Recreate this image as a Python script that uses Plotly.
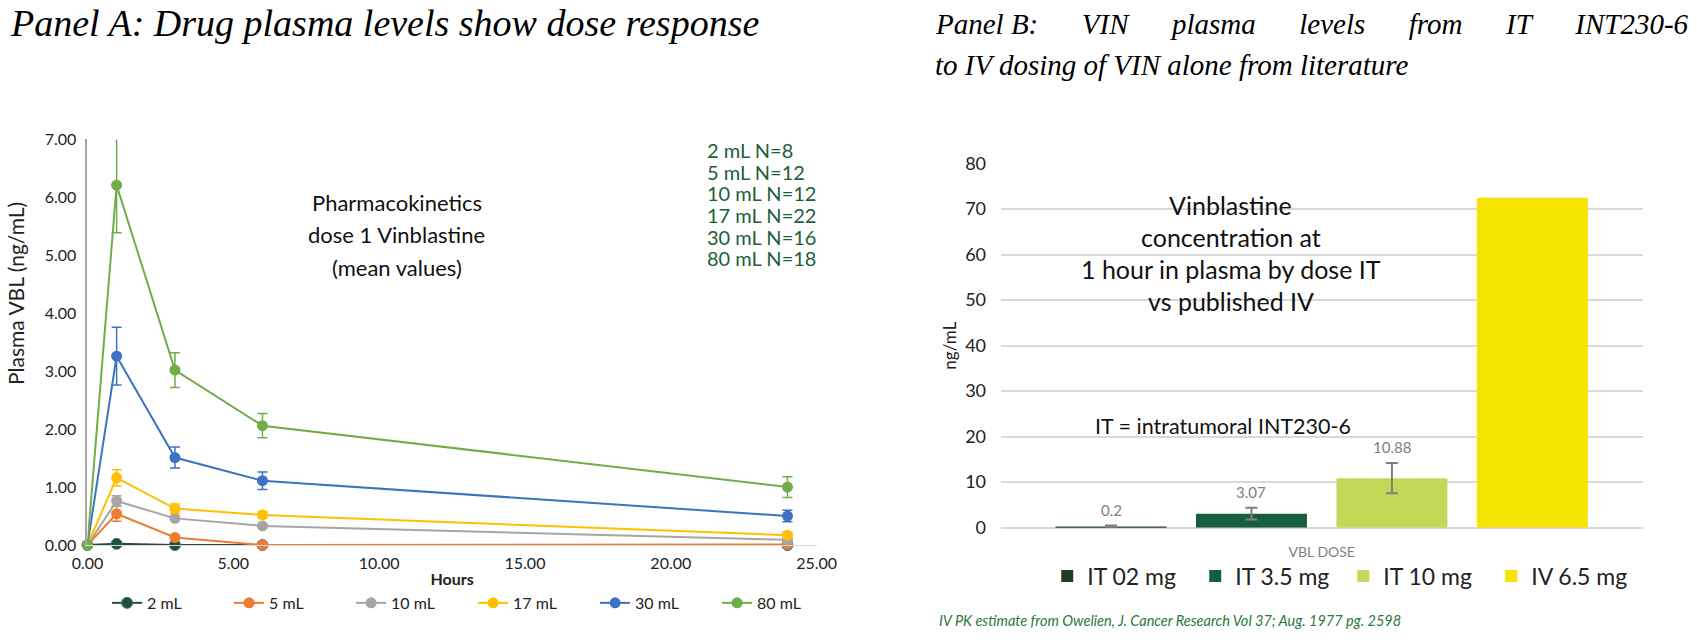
import plotly.graph_objects as go

# ---------------- Panel A data ----------------
hours = [0, 1, 3, 6, 24]
series_names = ["2 mL", "5 mL", "10 mL", "17 mL", "30 mL", "80 mL"]
v_2 = [0, 0.02, 0.00, 0.00, 0.00]
v_5 = [0, 0.54, 0.13, 0.00, 0.01]
v_10 = [0, 0.76, 0.46, 0.33, 0.09]
v_17 = [0, 1.16, 0.63, 0.52, 0.17]
v_30 = [0, 3.26, 1.51, 1.11, 0.50]
v_80 = [0, 6.21, 3.02, 2.06, 1.00]
e_2 = [0, 0.02, 0.01, 0.00, 0.00]
e_5 = [0, 0.13, 0.03, 0.01, 0.01]
e_10 = [0, 0.09, 0.03, 0.03, 0.02]
e_17 = [0, 0.14, 0.08, 0.06, 0.05]
e_30 = [0, 0.50, 0.18, 0.15, 0.10]
e_80 = [0, 0.82, 0.30, 0.21, 0.18]
n_labels = ["2 mL N=8", "5 mL N=12", "10 mL N=12", "17 mL N=22", "30 mL N=16", "80 mL N=18"]
pk_lines = ["Pharmacokinetics", "dose 1 Vinblastine", "(mean values)"]

# ---------------- Panel B data ----------------
category = ["VBL DOSE"]
doses = ["IT 02 mg", "IT 3.5 mg", "IT 10 mg", "IV 6.5 mg"]
conc = [0.2, 3.07, 10.88, 72.5]
conc_err = [0.25, 1.3, 3.3, 0]
bar_labels = ["0.2", "3.07", "10.88", ""]
vin_lines = ["Vinblastine", "concentration at", "1 hour in plasma by dose IT", "vs published IV"]

W, H = 1697, 640
FONT = "Lato"

colors_a = ["#24502E", "#ED7D31", "#A5A5A5", "#FFC000", "#3B73C2", "#70AD47"]
colors_b = ["#1E3F27", "#175E3E", "#C2D957", "#F5E400"]

fig = go.Figure()

vals = [v_2, v_5, v_10, v_17, v_30, v_80]
errs = [e_2, e_5, e_10, e_17, e_30, e_80]
for i, (name, v, e) in enumerate(zip(series_names, vals, errs)):
    col = colors_a[i]
    mline = dict(color="#3B6DB5", width=1) if i == 0 else dict(width=0)
    fig.add_trace(go.Scatter(
        x=hours, y=v, name=name, mode="lines+markers", cliponaxis=False,
        line=dict(color=col, width=2),
        marker=dict(color=col, size=11, line=mline),
        error_y=dict(type="data", array=e, visible=True, color=col, thickness=1.5, width=5),
        xaxis="x", yaxis="y", legend="legend",
    ))

for i, (d, c, e) in enumerate(zip(doses, conc, conc_err)):
    fig.add_trace(go.Bar(
        x=category, y=[c], name=d, marker=dict(color=colors_b[i], line=dict(width=0)),
        error_y=dict(type="data", array=[e], visible=e > 0, color="#7F7F7F", thickness=2, width=6),
        xaxis="x2", yaxis="y2", legend="legend2",
    ))

def px_x(p):
    return p / W

def px_y(p):
    return 1 - p / H

bargap = 0.125
bargroupgap = 0.21

fig.update_layout(
    width=W, height=H,
    margin=dict(l=0, r=0, t=0, b=0),
    paper_bgcolor="white", plot_bgcolor="white",
    font=dict(family=FONT, color="#222222"),
    barmode="group", bargap=bargap, bargroupgap=bargroupgap,
    xaxis=dict(domain=[px_x(73), px_x(818)], range=[0, 25], dtick=5, tickformat=".2f",
               showgrid=False, zeroline=False, showline=True, linecolor="#D9D9D9", linewidth=1,
               ticks="outside", ticklen=4, tickcolor="rgba(0,0,0,0)",
               tickfont=dict(size=16, color="#222222"),
               title=dict(text="<b>Hours</b>", font=dict(size=16, color="#222222"), standoff=2),
               anchor="y"),
    yaxis=dict(domain=[px_y(552), px_y(132)], range=[0, 7], dtick=1, tickformat=".2f",
               showgrid=False, zeroline=False, showline=True, linecolor="#A6A6A6", linewidth=2,
               ticks="outside", ticklen=6, tickcolor="rgba(0,0,0,0)",
               tickfont=dict(size=16, color="#222222"),
               anchor="x"),
    xaxis2=dict(domain=[px_x(1006), px_x(1662)], showgrid=False, zeroline=False,
                showline=False, ticks="outside", ticklen=12, tickcolor="rgba(0,0,0,0)",
                tickfont=dict(size=14, color="#808080"), anchor="y2"),
    yaxis2=dict(domain=[px_y(534), px_y(157)], range=[0, 80], dtick=10,
                showgrid=True, gridcolor="#D9D9D9", gridwidth=2, zeroline=True,
                zerolinecolor="#D9D9D9", zerolinewidth=2, showline=False,
                ticks="outside", ticklen=10, tickcolor="rgba(0,0,0,0)",
                tickfont=dict(size=18, color="#222222"),
                title=dict(text="ng/mL", font=dict(size=17, color="#222222"), standoff=4),
                anchor="x2"),
    legend=dict(orientation="h", x=px_x(467), xanchor="center", y=px_y(612), yanchor="middle",
                font=dict(size=16, color="#222222"), entrywidth=77, itemwidth=30,
                bgcolor="rgba(0,0,0,0)"),
    legend2=dict(orientation="h", x=px_x(1356), xanchor="center", y=px_y(584), yanchor="middle",
                 font=dict(size=23, color="#222222"), entrywidth=103, itemwidth=30,
                 bgcolor="rgba(0,0,0,0)"),
    showlegend=True,
)

SP = "\u00a0\u00a0\u00a0\u00a0\u00a0 "
ann = []
# Titles
ann.append(dict(text="<i>Panel A: Drug plasma levels show dose response</i>", x=px_x(-8), y=px_y(11),
                xref="paper", yref="paper", xanchor="left", yanchor="middle", showarrow=False,
                font=dict(family="Liberation Serif", size=38, color="#000000")))
ann.append(dict(text="<i>" + SP.join(["Panel B:", "VIN", "plasma", "levels", "from", "IT", "INT230-6"]) + "</i>",
                x=px_x(937), y=px_y(12), xref="paper", yref="paper", xanchor="left", yanchor="middle",
                showarrow=False, font=dict(family="Liberation Serif", size=29, color="#000000")))
ann.append(dict(text="<i>to IV dosing of VIN alone from literature</i>",
                x=px_x(937), y=px_y(55), xref="paper", yref="paper", xanchor="left", yanchor="middle",
                showarrow=False, font=dict(family="Liberation Serif", size=29, color="#000000")))
# Panel A y-axis title
ann.append(dict(text="Plasma VBL (ng/mL)", x=px_x(0), y=px_y(292), xref="paper", yref="paper",
                xanchor="center", yanchor="middle", textangle=-90, showarrow=False,
                font=dict(size=21, color="#222222")))
# Panel A inner text
for k, t in enumerate(pk_lines):
    ann.append(dict(text=t, x=px_x(389), y=px_y(197 + 33.6 * k), xref="paper", yref="paper",
                    xanchor="center", yanchor="middle", showarrow=False,
                    font=dict(size=22, color="#111111")))
for k, t in enumerate(n_labels):
    ann.append(dict(text=t, x=px_x(704), y=px_y(143 + 22.4 * k), xref="paper", yref="paper",
                    xanchor="left", yanchor="middle", showarrow=False,
                    font=dict(size=20, color="#1E5E3C")))
# Panel B inner text
for k, t in enumerate(vin_lines):
    ann.append(dict(text=t, x=px_x(1241), y=px_y(200 + 33 * k), xref="paper", yref="paper",
                    xanchor="center", yanchor="middle", showarrow=False,
                    font=dict(size=25, color="#111111")))
ann.append(dict(text="IT = intratumoral INT230-6", x=px_x(1233), y=px_y(429), xref="paper", yref="paper",
                xanchor="center", yanchor="middle", showarrow=False, font=dict(size=21.5, color="#111111")))
# Bar value labels (position computed from bar layout)
nb = len(doses)
for i, (lab, c, e) in enumerate(zip(bar_labels, conc, conc_err)):
    if not lab:
        continue
    xf = bargap / 2 + (1 - bargap) * (i + 0.5) / nb
    ann.append(dict(text=lab, x=xf, xref="x2 domain", y=c + e, yref="y2", yanchor="bottom",
                    xanchor="center", yshift=5, showarrow=False, font=dict(size=15, color="#808080")))
# Footnote
ann.append(dict(text="<i>IV PK estimate from Owelien, J. Cancer Research Vol 37; Aug. 1977 pg. 2598</i>",
                x=px_x(941), y=px_y(630), xref="paper", yref="paper", xanchor="left", yanchor="middle",
                showarrow=False, font=dict(size=14.5, color="#2A7A3E")))

fig.update_layout(annotations=ann)
fig.write_html("out.html", config={"displayModeBar": False},
               post_script="document.body.style.margin='0';document.body.style.overflow='hidden';")
